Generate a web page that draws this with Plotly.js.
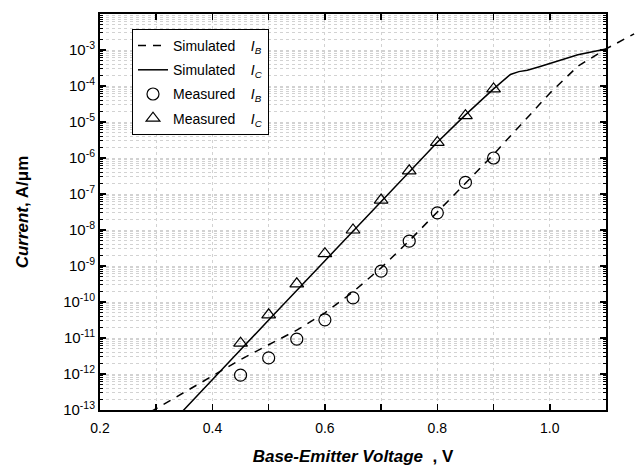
<!DOCTYPE html>
<html>
<head>
<meta charset="utf-8">
<script src="https://cdn.plot.ly/plotly-3.0.1.min.js"></script>
<style>html,body{margin:0;padding:0;background:#fff;}#chart{width:636px;height:468px;}</style>
</head>
<body>
<div id="chart"></div>
<script>
// Simulated base current I_B (dashed line)
const vSimIB = [0.29, 0.35, 0.40, 0.45, 0.50, 0.55, 0.60, 0.65, 0.70, 0.75, 0.80, 0.85, 0.90, 0.95, 1.00, 1.05, 1.10, 1.15];
const iSimIB = [8.9e-14, 3.16e-13, 8.9e-13, 2.5e-12, 6.5e-12, 1.65e-11, 5.0e-11, 1.9e-10, 8.9e-10, 5.0e-9, 3.16e-8, 2.0e-7, 1.26e-6, 8.9e-6, 6.3e-5, 3.55e-4, 1.07e-3, 2.8e-3];
// Simulated collector current I_C (solid line)
const vSimIC = [0.34, 0.40, 0.45, 0.50, 0.55, 0.60, 0.65, 0.70, 0.75, 0.80, 0.85, 0.90, 0.93, 0.945, 0.96, 0.98, 1.00, 1.05, 1.10];
const iSimIC = [7.1e-14, 6.8e-13, 4.7e-12, 3.16e-11, 2.09e-10, 1.32e-9, 8.9e-9, 6.0e-8, 4.07e-7, 2.75e-6, 1.58e-5, 8.3e-5, 2.09e-4, 2.51e-4, 2.75e-4, 3.39e-4, 4.27e-4, 7.4e-4, 1.07e-3];
// Measured
const vMeas = [0.45, 0.50, 0.55, 0.60, 0.65, 0.70, 0.75, 0.80, 0.85, 0.90];
const iMeasIB = [9.3e-13, 2.8e-12, 9.3e-12, 3.2e-11, 1.3e-10, 7.2e-10, 4.9e-9, 3.0e-8, 2.1e-7, 1.0e-6];
const iMeasIC = [7.2e-12, 4.4e-11, 3.2e-10, 2.2e-9, 1.0e-8, 6.8e-8, 4.4e-7, 2.7e-6, 1.5e-5, 8.3e-5];
// Ticks
const xTickVals = [0.2, 0.3, 0.4, 0.5, 0.6, 0.7, 0.8, 0.9, 1.0, 1.1];
const xTickText = ['0.2', '', '0.4', '', '0.6', '', '0.8', '', '1.0', ''];
const yTickVals = [1e-13, 1e-12, 1e-11, 1e-10, 1e-9, 1e-8, 1e-7, 1e-6, 1e-5, 1e-4, 1e-3];
const yTickText = ['10<sup>-13</sup>', '10<sup>-12</sup>', '10<sup>-11</sup>', '10<sup>-10</sup>', '10<sup>-9</sup>', '10<sup>-8</sup>', '10<sup>-7</sup>', '10<sup>-6</sup>', '10<sup>-5</sup>', '10<sup>-4</sup>', '10<sup>-3</sup>'];

const yMinor = [];
yTickVals.forEach(function (d) { for (let k = 2; k <= 9; k++) yMinor.push(k * d); });

const W = 636, L = 100, R = 606;
const frac = (R - L) / (W - L);
const xr = [0.2, 1.1];
const xr2 = [0.2, 0.2 + (xr[1] - xr[0]) / frac];

const FONT = 'Liberation Sans, Arial, sans-serif';
const gridCol = '#d2d2d2';
const SP = '&nbsp;&nbsp;&nbsp;&nbsp;';

const traces = [
  {x: vSimIB, y: iSimIB, xaxis: 'x2', yaxis: 'y2', mode: 'lines', name: 'Simulated' + SP + '<i>I<sub>B</sub></i>', legendgroup: 'a',
   line: {color: 'black', width: 1.5, dash: '8px,7px'}},
  {x: vSimIC, y: iSimIC, mode: 'lines', name: 'Simulated' + SP + '<i>I<sub>C</sub></i>', legendgroup: 'b',
   line: {color: 'black', width: 1.5}},
  {x: vMeas, y: iMeasIB, mode: 'markers', name: 'Measured' + SP + '<i>I<sub>B</sub></i>', legendgroup: 'c',
   marker: {symbol: 'circle-open', size: 12, color: 'black', line: {width: 1.2, color: 'black'}}},
  {x: vMeas, y: iMeasIC, mode: 'markers', name: 'Measured' + SP + '<i>I<sub>C</sub></i>', legendgroup: 'd',
   marker: {symbol: 'triangle-up-open', size: 12, color: 'black', line: {width: 1.2, color: 'black'}}}
];

const layout = {
  width: 636, height: 468,
  margin: {l: L, r: 0, t: 14, b: 58},
  paper_bgcolor: 'white', plot_bgcolor: 'rgba(0,0,0,0)',
  font: {family: FONT, color: 'black', size: 13},
  showlegend: true,
  legend: {x: (132 - L) / (W - L), y: (410 - 29) / 396, xanchor: 'left', yanchor: 'top',
           bgcolor: 'white', bordercolor: 'black', borderwidth: 1, font: {size: 14, family: FONT},
           traceorder: 'grouped', tracegroupgap: 3},
  xaxis: {domain: [0, frac], range: xr, tickmode: 'array', tickvals: xTickVals, ticktext: xTickText,
          ticks: 'inside', ticklen: 6, tickwidth: 1.5, tickcolor: 'black',
          showline: true, linewidth: 2, linecolor: 'black', mirror: 'ticks',
          showgrid: true, gridcolor: gridCol, griddash: 'dot', gridwidth: 1, zeroline: false,
          tickfont: {size: 14}, ticklabelstandoff: 4,
          title: {text: '<b><i>Base-Emitter Voltage</i>&nbsp;&nbsp;, V</b>', font: {size: 17}, standoff: 15}},
  yaxis: {type: 'log', range: [-13, -2], tickmode: 'array', tickvals: yTickVals, ticktext: yTickText,
          ticks: 'inside', ticklen: 6, tickwidth: 1.5, tickcolor: 'black',
          showline: true, linewidth: 2, linecolor: 'black', mirror: 'ticks',
          showgrid: true, gridcolor: gridCol, griddash: 'dot', gridwidth: 1, zeroline: false,
          tickfont: {size: 15},
          minor: {tickmode: 'array', tickvals: yMinor, ticks: 'inside', ticklen: 3, tickwidth: 1, tickcolor: 'black',
                  showgrid: true, gridcolor: gridCol, griddash: 'dot', gridwidth: 1},
          title: {text: '<b><i>Current</i>, A/μm</b>', font: {size: 17}, standoff: 30}},
  xaxis2: {domain: [0, 1], range: xr2, anchor: 'y2', visible: false, showgrid: false, zeroline: false},
  yaxis2: {type: 'log', domain: [0, 1], range: [-13, -2], anchor: 'x2', visible: false, showgrid: false, zeroline: false}
};

Plotly.newPlot('chart', traces, layout, {staticPlot: true, displayModeBar: false});
</script>
</body>
</html>
